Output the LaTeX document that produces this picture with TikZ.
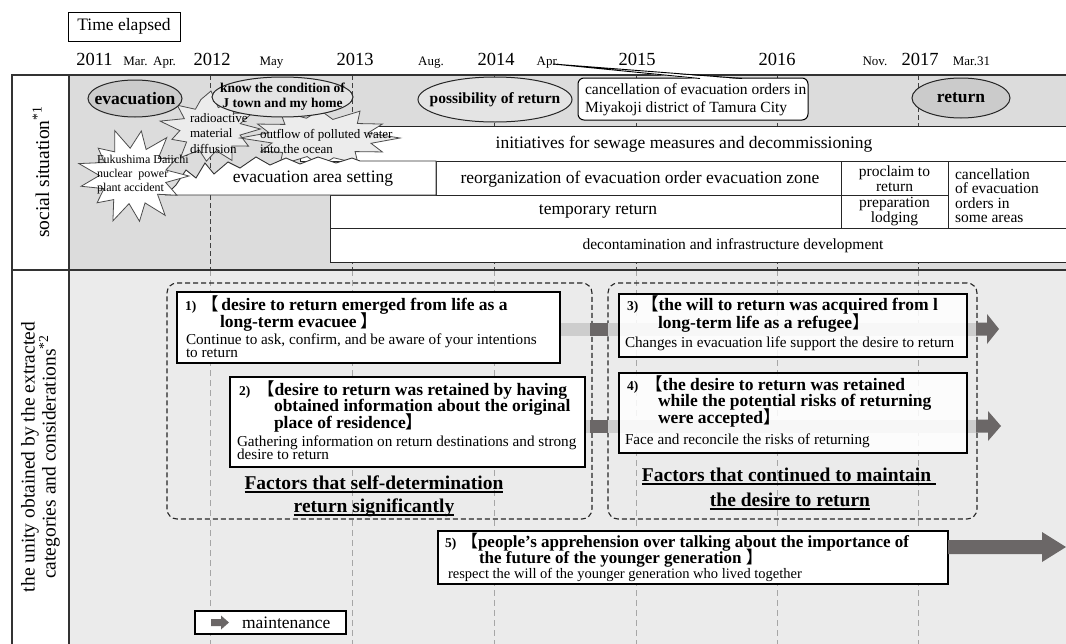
\documentclass[tikz,border=0pt]{standalone}
\usepackage{fontspec}
\setmainfont{Liberation Serif}
\newfontfamily\cjk{Noto Sans CJK SC}
\usetikzlibrary{calc,shapes.geometric}
\newcommand\myfs[2]{\fontsize{#1}{#2}\selectfont}
\newcommand\lbr{{\cjk\mdseries 【}}
\newcommand\rbr{{\cjk\mdseries 】}}
\newcommand\TitleFont{\myfs{17.5}{18}\bfseries}
\newcommand\SubFont{\myfs{15.2}{16}\mdseries}
\newcommand\NumFont{\myfs{13.5}{14}\bfseries}
\definecolor{bandA}{HTML}{DCDCDC}
\definecolor{bandB}{HTML}{EBEBEB}
\definecolor{ellD}{HTML}{CBCBCB}
\definecolor{ellL}{HTML}{E4E4E4}
\definecolor{burstG}{HTML}{ECECEC}
\definecolor{arrD}{HTML}{6B6767}
\definecolor{arrL}{HTML}{CDCDCD}
% filled block arrow: style, from, to, half shaft, half head, head length
\newcommand\fatarrow[6]{%
  \fill[#1] let \p1=(#2), \p2=(#3) in
    (\x1,{\y1+#4pt}) -- ({\x2-#6pt},{\y1+#4pt}) -- ({\x2-#6pt},{\y1+#5pt}) --
    (\x2,\y1) -- ({\x2-#6pt},{\y1-#5pt}) -- ({\x2-#6pt},{\y1-#4pt}) --
    (\x1,{\y1-#4pt}) -- cycle;}
\begin{document}
\begin{tikzpicture}[x=1pt,y=-1pt,
  tl/.style={anchor=base west, inner sep=0pt, outer sep=0pt},
  ctr/.style={inner sep=0pt, outer sep=0pt, align=center},
  rowbox/.style={draw=black!85, line width=1pt, fill=white, inner sep=0pt, outer sep=0pt, anchor=north west},
  wbox/.style={draw=black, line width=1.1pt, fill=white, inner sep=0pt, outer sep=0pt, anchor=north west},
  tbox/.style={wbox, fill opacity=0.86},
  grp/.style={draw=black!85, line width=1.1pt, dash pattern=on 5pt off 3pt, rounded corners=10pt, inner sep=0pt, outer sep=0pt, anchor=north west},
  ell/.style={ellipse, draw=black!85, line width=1pt, inner sep=0pt, outer sep=0pt},
  burstline/.style={draw=black!70, line width=0.8pt, line join=miter},
  topdash/.style={draw=black!75, line width=0.9pt, dash pattern=on 5pt off 3pt},
  lowdash/.style={draw=black!35, line width=0.8pt, dash pattern=on 6pt off 4pt},
  frameline/.style={draw=black!80, line width=1.3pt}
]
\useasboundingbox (0,0) rectangle (1066,643);
\clip (0,0) rectangle (1066,643);
\fill[white] (0,0) rectangle (1066,643);

% ---------- bands ----------
\fill[bandA] (69,75) rectangle (1070,270);
\fill[bandB] (69,270) rectangle (1070,650);
\foreach \x in {210,352,494,636,777,918} {
  \draw[topdash] (\x,75) -- (\x,270);
  \draw[lowdash] (\x,270) -- (\x,650);
}
\draw[frameline] (12,650) -- (12,75) -- (1070,75);
\draw[frameline] (12,270) -- (1070,270);
\draw[frameline] (69,75) -- (69,650);

% ---------- header ----------
\node[draw=black, line width=1pt, minimum width=112pt, minimum height=29pt, anchor=north west, inner sep=0pt, outer sep=0pt, font=\myfs{17.5}{18}] (te) at (68,12) {Time elapsed};
\foreach \t/\x in {2011/94.5,2012/212,2013/355,2014/496,2015/637,2016/777,2017/920}
  \node[ctr, anchor=base, font=\myfs{18.5}{19}] (y\t) at (\x,65) {\t};
\node[ctr, anchor=base, font=\myfs{13}{13}] (mMar) at (135.5,65) {Mar.};
\node[ctr, anchor=base, font=\myfs{13}{13}] (mApr) at (164.5,65) {Apr.};
\node[ctr, anchor=base, font=\myfs{13}{13}] (mMay) at (271.5,65) {May};
\node[ctr, anchor=base, font=\myfs{13}{13}] (mAug) at (431,65) {Aug.};
\node[ctr, anchor=base, font=\myfs{13}{13}] (mApr2) at (548,65) {Apr.};
\node[ctr, anchor=base, font=\myfs{13}{13}] (mNov) at (875,65) {Nov.};
\node[ctr, anchor=base, font=\myfs{13}{13}] (mMar31) at (971.5,65) {Mar.31};

% ---------- left labels ----------
\node[ctr, rotate=90, font=\myfs{19.5}{20}] (lsoc) at (41,172) {social situation\textsuperscript{*1}};
\node[ctr, rotate=90, font=\myfs{19.5}{21}] (lunity) at (40.5,457) {the unity obtained by the extracted\\categories and considerations\textsuperscript{*2}};

% ---------- social rows ----------
\node[rowbox, minimum width=770pt, minimum height=35pt] (init) at (300,126) {};
\node[rowbox, minimum width=405pt, minimum height=34pt] (reorg) at (436,161) {};
\node[rowbox, minimum width=107pt, minimum height=34pt] (procl) at (841,161) {};
\node[rowbox, minimum width=122pt, minimum height=67pt] (cancel) at (948,161) {};
\node[rowbox, minimum width=511pt, minimum height=33pt] (temp) at (330,195) {};
\node[rowbox, minimum width=107pt, minimum height=33pt] (prep) at (841,195) {};
\node[rowbox, minimum width=740pt, minimum height=34pt] (decon) at (330,228) {};

% bursts
\begin{scope}[shift={(211,129)}, x=52pt, y=-38pt]
\filldraw[burstline, fill=burstG] (0:0.95) \foreach \a/\r in {16/.58,32/.85,48/.6,64/.92,80/.58,96/.85,112/.6,128/.95,144/.58,160/.8,176/.6,192/1.0,208/.58,224/.9,240/.6,256/.8,270/1.0,284/.58,300/.85,316/.6,332/.9,346/.58} { -- (\a:\r) } -- cycle;
\end{scope}
\begin{scope}[shift={(320,138)}, x=80pt, y=-31pt]
\filldraw[burstline, fill=burstG] (0:1.0) \foreach \a/\r in {15/.66,30/.9,45/.62,60/.95,75/.66,90/.9,105/.62,120/1.0,135/.66,150/.85,165/.62,180/1.0,195/.66,210/.9,225/.62,240/1.0,255/.66,270/.9,285/.62,300/1.0,315/.66,330/.9,345/.62} { -- (\a:\r) } -- cycle;
\end{scope}
% evacuation area setting region
\filldraw[fill=white, draw=black!80, line width=0.9pt, line join=miter] (166,195) -- (176,185) -- (186,170) -- (196,178) -- (205,163) -- (214,174) -- (228,162) -- (240,168) -- (256,157) -- (270,165) -- (286,158) -- (300,164) -- (318,157) -- (336,163) -- (352,158) -- (360,161) -- (436,161) -- (436,195) -- cycle;
\begin{scope}[shift={(133,176)}, x=56pt, y=-48pt]
\filldraw[burstline, fill=white] (0:1.0) \foreach \a/\r in {13/.6,27/.88,41/.58,55/1.0,69/.6,83/.95,97/.58,111/1.0,125/.6,139/.85,153/.58,167/.95,181/.6,195/1.0,209/.58,223/.85,237/.6,251/1.0,265/.58,279/.95,293/.6,307/1.0,321/.58,335/.85,348/.6} { -- (\a:\r) } -- cycle;
\end{scope}

% ellipses
\node[ell, fill=ellD, minimum width=94pt, minimum height=37pt] (eEvac) at (135,98.5) {};
\node[ell, fill=ellL, minimum width=141pt, minimum height=40pt] (eKnow) at (282.5,97) {};
\node[ell, fill=ellL, minimum width=154pt, minimum height=45pt] (ePoss) at (495,99.5) {};
\node[ell, fill=ellD, minimum width=98pt, minimum height=40pt] (eRet) at (961,98) {};

% callout
\node[draw=black, line width=1pt, rounded corners=6pt, fill=white, minimum width=230pt, minimum height=42pt, anchor=north west, inner sep=0pt, outer sep=0pt] (call) at (578,78) {};
\coordinate (aprtip) at (553,64);
\fill[white] (700,79.3) -- (aprtip) -- (742,79.3) -- cycle;
\draw[line width=0.9pt] (700,78.5) -- (aprtip) -- (742,78.5);

% texts of social part
\node[ctr, font=\myfs{17.5}{18}\bfseries] (tEvac) at (135,98.5) {evacuation};
\node[ctr, font=\myfs{13.5}{15}\bfseries] (tKnow) at (282.5,96.5) {know the condition of\\J town and my home};
\node[ctr, font=\myfs{15.5}{16}\bfseries] (tPoss) at (495,99.5) {possibility of return};
\node[ctr, font=\myfs{17.5}{18}\bfseries] (tRet) at (961,98) {return};
\node[ctr, align=left, anchor=north west, font=\myfs{15.5}{18}] (tCall) at (585,83.5) {cancellation of evacuation orders in\\Miyakoji district of Tamura City};
\node[ctr, align=left, anchor=north west, font=\myfs{13}{15.5}] (tRad) at (190,113) {radioactive\\material\\diffusion};
\node[ctr, align=left, anchor=north west, font=\myfs{13}{15.5}] (tOut) at (260,129) {outflow of polluted water\\into the ocean};
\node[ctr, align=left, anchor=north west, font=\myfs{12}{14}] (tFuk) at (97,155) {Fukushima Daiichi\\nuclear\ \ power\\plant accident};
\node[ctr, font=\myfs{17.5}{18}] (tInit) at (684,144) {initiatives for sewage measures and decommissioning};
\node[ctr, font=\myfs{17.5}{18}] (tEvA) at (313,179) {evacuation area setting};
\node[ctr, font=\myfs{17.5}{18}] (tReorg) at (640,179) {reorganization of evacuation order evacuation zone};
\node[ctr, font=\myfs{15.5}{14.5}] (tProcl) at (894.5,178.5) {proclaim to\\return};
\node[ctr, font=\myfs{15.5}{13}] (tPrep) at (894.5,212) {preparation\\lodging};
\node[ctr, align=left, anchor=west, font=\myfs{15.5}{14.5}] (tCanc) at (955,195.5) {cancellation\\of evacuation\\orders in\\some areas};
\node[ctr, font=\myfs{17.5}{18}] (tTemp) at (598,211) {temporary return};
\node[ctr, font=\myfs{15.5}{16}] (tDecon) at (733,246) {decontamination and infrastructure development};

% ---------- lower part ----------
\node[grp, minimum width=425pt, minimum height=236pt] (gA) at (167,283) {};
\node[grp, minimum width=369pt, minimum height=236pt] (gB) at (608,283) {};

\coordinate (r1s) at (555,329);   \coordinate (r1e) at (977,329);
\coordinate (r2s) at (580,426);   \coordinate (r2e) at (977,426);
\fill[arrL] ($(r1s)+(0,-6.5)$) rectangle ($(r1e)+(0,6.5)$);
\fill[arrL] ($(r2s)+(0,-6.5)$) rectangle ($(r2e)+(0,6.5)$);
\fill[arrD] (590,322.5) rectangle (608,335.5);
\fill[arrD] (590,419.5) rectangle (608,432.5);

\node[wbox, minimum width=383pt, minimum height=71pt] (b1) at (177,292) {};
\node[wbox, minimum width=355pt, minimum height=90pt] (b2) at (230,377) {};
\node[tbox, minimum width=348pt, minimum height=63pt] (b3) at (619,294) {};
\node[tbox, minimum width=348pt, minimum height=80pt] (b4) at (619,373) {};
\node[wbox, minimum width=510pt, minimum height=53pt] (b5) at (438,531) {};
\node[wbox, minimum width=151pt, minimum height=23pt] (leg) at (195,611) {};

\coordinate (h1s) at (976,329); \coordinate (h1e) at (999,329);
\coordinate (h2s) at (976,426); \coordinate (h2e) at (1001,426);
\coordinate (h5s) at (948,547); \coordinate (h5e) at (1066,547);
\coordinate (hls) at (211,622.5); \coordinate (hle) at (229,622.5);
\fatarrow{arrD}{h1s}{h1e}{6.5}{15}{12}
\fatarrow{arrD}{h2s}{h2e}{6.5}{15}{13}
\fatarrow{arrD}{h5s}{h5e}{7}{15}{24}
\fatarrow{arrD}{hls}{hle}{3.5}{7}{8}

% box 1
\node[tl, font=\NumFont] (n1) at (185,310) {1)};
\node[tl, font=\TitleFont] (t1a) at (201,310) {\lbr\,desire to return emerged from life as a};
\node[tl, font=\TitleFont] (t1b) at (220,327) {long-term evacuee \rbr};
\node[tl, font=\SubFont] (s1a) at (186,344) {Continue to ask, confirm, and be aware of your intentions};
\node[tl, font=\SubFont] (s1b) at (186,357.5) {to return};
% box 2
\node[tl, font=\NumFont] (n2) at (239,395) {2)};
\node[tl, font=\TitleFont] (t2a) at (257,395) {\lbr desire to return was retained by having};
\node[tl, font=\TitleFont] (t2b) at (274,411.5) {obtained information about the original};
\node[tl, font=\TitleFont] (t2c) at (274,428) {place of residence\rbr};
\node[tl, font=\SubFont] (s2a) at (237,446) {Gathering information on return destinations and strong};
\node[tl, font=\SubFont] (s2b) at (237,459.5) {desire to return};
% box 3
\node[tl, font=\NumFont] (n3) at (627,310) {3)};
\node[tl, font=\TitleFont] (t3a) at (641,310) {\lbr the will to return was acquired from l};
\node[tl, font=\TitleFont] (t3b) at (658,328) {long-term life as a refugee\rbr};
\node[tl, font=\SubFont] (s3a) at (625,347.5) {Changes in evacuation life support the desire to return};
% box 4
\node[tl, font=\NumFont] (n4) at (627,390) {4)};
\node[tl, font=\TitleFont] (t4a) at (645,390) {\lbr the desire to return was retained};
\node[tl, font=\TitleFont] (t4b) at (658,406.5) {while the potential risks of returning};
\node[tl, font=\TitleFont] (t4c) at (658,423) {were accepted\rbr};
\node[tl, font=\SubFont] (s4a) at (625,444.5) {Face and reconcile the risks of returning};
% box 5
\node[tl, font=\NumFont] (n5) at (445,547) {5)};
\node[tl, font=\myfs{17}{17}\bfseries] (t5a) at (461,547) {\lbr people’s apprehension over talking about the importance of};
\node[tl, font=\myfs{17}{17}\bfseries] (t5b) at (479,563) {the future of the younger generation \rbr};
\node[tl, font=\myfs{14.5}{15}] (s5a) at (448,578.5) {respect the will of the younger generation who lived together};
% legend
\node[tl, font=\myfs{17.5}{18}] (tleg) at (242,628) {maintenance};

% factor headings
\node[ctr, anchor=base, font=\myfs{19.5}{20}\bfseries] (fA1) at (374,489) {Factors that self-determination};
\node[ctr, anchor=base, font=\myfs{19.5}{20}\bfseries] (fA2) at (374,512) {return significantly};
\node[ctr, anchor=base, font=\myfs{19.5}{20}\bfseries] (fB1) at (789,481) {Factors that continued to maintain\ };
\node[ctr, anchor=base, font=\myfs{19.5}{20}\bfseries] (fB2) at (790,506) {the desire to return};
\foreach \n in {fA1,fA2,fB1,fB2}
  \draw[line width=1.2pt] ([yshift=-3pt]\n.base west) -- ([yshift=-3pt]\n.base east);
\end{tikzpicture}
\end{document}
